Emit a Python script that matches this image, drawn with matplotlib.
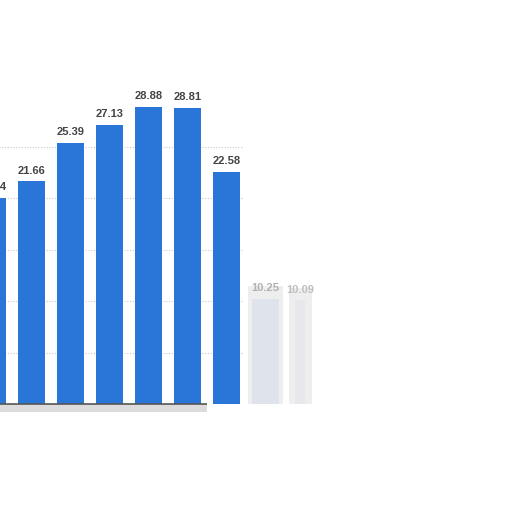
import matplotlib
matplotlib.use("Agg")
import matplotlib.pyplot as plt

# data (visible part of a cropped chart)
values = [20.04, 21.66, 25.39, 27.13, 28.88, 28.81, 22.58, 10.25, 10.09]
labels = ["20.04", "21.66", "25.39", "27.13", "28.88", "28.81", "22.58", "10.25", "10.09"]
grid_ticks = [5, 10, 15, 20, 25]

bar_colors = ["#2a76d8"] * 7 + ["#dfe4ec", "#e6e8ec"]
label_colors = ["#444444"] * 7 + ["#b0b0b0", "#c0c0c0"]
widths = [0.69] * 8 + [0.26]

fig = plt.figure(figsize=(5.12, 5.12), dpi=100)
ax = fig.add_axes([0, 0, 1, 1])
px = 38.9  # pixels per category
c0 = -7.0  # pixel of first category centre
ax.set_xlim((0 - c0) / px, (512 - c0) / px)
ppu = 10.28
base_from_bottom = 108
ax.set_ylim(-base_from_bottom / ppu, (512 - base_from_bottom) / ppu)
ax.axis("off")

x = list(range(len(values)))
xpos = x[:8] + [x[8] - 0.1]

# gridlines
for g in grid_ticks:
    ax.hlines(g, -0.5, 6.4, colors="#c8c8c8", linestyles=(0, (1, 1.5)), linewidth=0.8, zorder=1)

# shadow / smudges
ax.fill_between([-0.5, 5.5], -0.75, 0, color="#dcdcdc", zorder=1, linewidth=0)
ax.bar(xpos[7:], [v + 1.2 for v in values[7:]], width=[0.9, 0.6], color="#eeeeee", zorder=1)

ax.bar(xpos, values, width=widths, color=bar_colors, zorder=2)
ax.hlines(0, -0.5, 5.5, colors="#555555", linewidth=1.2, zorder=3)

for xi, v, lab, col in zip(xpos, values, labels, label_colors):
    ax.text(xi, v + 0.55, lab, ha="center", va="bottom", fontsize=8,
            fontweight="bold", family="Liberation Sans", color=col, zorder=4)

fig.savefig("out.png", dpi=100)
